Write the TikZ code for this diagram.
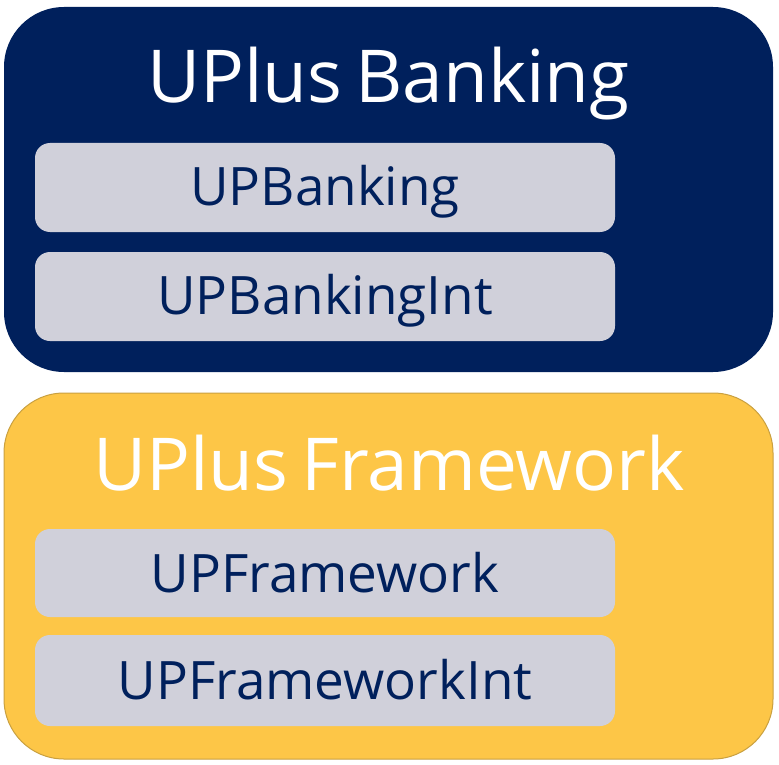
\documentclass[tikz,border=0pt]{standalone}
\usepackage{fontspec}
\setmainfont{Open Sans}
\definecolor{navy}{HTML}{00205C}
\definecolor{gold}{HTML}{FDC647}
\definecolor{goldedge}{HTML}{C9A040}
\definecolor{chip}{HTML}{D0D0DA}
\begin{document}
\begin{tikzpicture}[x=1pt,y=-1pt,
  outerbox/.style={rounded corners=60pt},
  innerbox/.style={fill=chip,rounded corners=15pt},
  titletext/.style={anchor=base,text=white,font=\fontsize{73}{80}\selectfont,inner sep=0pt},
  chiptext/.style={anchor=base,text=navy,font=\fontsize{53}{60}\selectfont,inner sep=0pt}]
\useasboundingbox (0,0) rectangle (779,765);
% top group
\fill[navy,outerbox] (4,7) rectangle (773,372);
\node[titletext] (t1) at (388.5,103) {UPlus\hspace{-6pt} Banking};
\fill[innerbox] (35,143) rectangle (615,232);
\node[chiptext] (c1) at (325,205) {UPBanking};
\fill[innerbox] (35,252) rectangle (615,341);
\node[chiptext] (c2) at (325,314) {UPBankingInt};
% bottom group
\filldraw[fill=gold,draw=goldedge,line width=1pt,outerbox] (4,393) rectangle (773,759);
\node[titletext] (t2) at (389,490) {UPlus\hspace{-6pt} Framework};
\fill[innerbox] (35,529) rectangle (615,617);
\node[chiptext] (c3) at (325,592) {UPFramework};
\fill[innerbox] (35,635) rectangle (615,726);
\node[chiptext] (c4) at (325,699) {UPFrameworkInt};
\end{tikzpicture}
\end{document}
